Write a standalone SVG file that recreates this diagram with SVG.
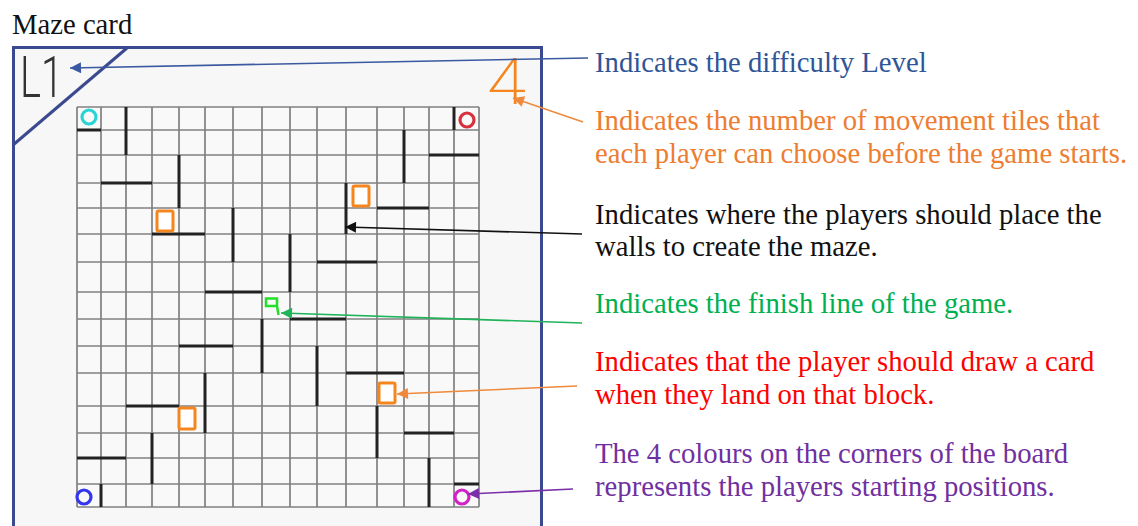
<svg xmlns="http://www.w3.org/2000/svg" width="1138" height="526" viewBox="0 0 1138 526">
<style>
.lbl{font-family:"Liberation Serif","Times New Roman",serif;font-size:28.7px}
.grid line{stroke:#808080;stroke-width:1.7}
.wall line{stroke:#222;stroke-width:3;stroke-linecap:butt}
.tile{fill:#fff;stroke:#f5861f;stroke-width:3}
.start{fill:none;stroke-width:3.2}
.conn{fill:none;stroke-width:1.6}
</style>
<defs>
<marker id="ab" viewBox="0 0 10 10" refX="10" refY="5" markerWidth="14" markerHeight="11" markerUnits="userSpaceOnUse" orient="auto"><path d="M0,0L10,5L0,10z" fill="#3a59a0"/></marker>
<marker id="ao" viewBox="0 0 10 10" refX="10" refY="5" markerWidth="14" markerHeight="11" markerUnits="userSpaceOnUse" orient="auto"><path d="M0,0L10,5L0,10z" fill="#ef8a3c"/></marker>
<marker id="ak" viewBox="0 0 10 10" refX="10" refY="5" markerWidth="14" markerHeight="11" markerUnits="userSpaceOnUse" orient="auto"><path d="M0,0L10,5L0,10z" fill="#111"/></marker>
<marker id="ag" viewBox="0 0 10 10" refX="10" refY="5" markerWidth="14" markerHeight="11" markerUnits="userSpaceOnUse" orient="auto"><path d="M0,0L10,5L0,10z" fill="#1fb35a"/></marker>
<marker id="ap" viewBox="0 0 10 10" refX="10" refY="5" markerWidth="14" markerHeight="11" markerUnits="userSpaceOnUse" orient="auto"><path d="M0,0L10,5L0,10z" fill="#7a2fa8"/></marker>
</defs>
<rect width="1138" height="526" fill="#fff"/>
<text class="lbl" x="12" y="34" fill="#111">Maze card</text>
<g id="card">
<rect x="13.5" y="47.5" width="528" height="500" fill="#f7f7f7" stroke="#3b4a8e" stroke-width="3"/>
<line x1="127" y1="48" x2="13" y2="145" stroke="#3b4a8e" stroke-width="3"/>
<text x="20" y="97" font-family="Roboto,Lato,sans-serif" font-weight="300" font-size="58" fill="#333" textLength="43" lengthAdjust="spacingAndGlyphs">L1</text>
<text x="487" y="104" font-family="Roboto,Lato,sans-serif" font-weight="200" font-size="64" fill="#f5861f" textLength="39" lengthAdjust="spacingAndGlyphs">4</text>
</g>
<g id="grid" class="grid">
<rect x="77" y="107" width="402" height="400" fill="#f9f9f9"/>
<line x1="77" y1="107" x2="77" y2="507"/><line x1="101" y1="107" x2="101" y2="507"/><line x1="126" y1="107" x2="126" y2="507"/><line x1="152" y1="107" x2="152" y2="507"/><line x1="179" y1="107" x2="179" y2="507"/><line x1="205" y1="107" x2="205" y2="507"/><line x1="233" y1="107" x2="233" y2="507"/><line x1="262" y1="107" x2="262" y2="507"/><line x1="290" y1="107" x2="290" y2="507"/><line x1="317" y1="107" x2="317" y2="507"/><line x1="346" y1="107" x2="346" y2="507"/><line x1="377" y1="107" x2="377" y2="507"/><line x1="404" y1="107" x2="404" y2="507"/><line x1="429" y1="107" x2="429" y2="507"/><line x1="454" y1="107" x2="454" y2="507"/><line x1="479" y1="107" x2="479" y2="507"/>
<line x1="77" y1="107" x2="479" y2="107"/><line x1="77" y1="130" x2="479" y2="130"/><line x1="77" y1="155" x2="479" y2="155"/><line x1="77" y1="183" x2="479" y2="183"/><line x1="77" y1="208" x2="479" y2="208"/><line x1="77" y1="234" x2="479" y2="234"/><line x1="77" y1="262" x2="479" y2="262"/><line x1="77" y1="292" x2="479" y2="292"/><line x1="77" y1="319" x2="479" y2="319"/><line x1="77" y1="346" x2="479" y2="346"/><line x1="77" y1="373" x2="479" y2="373"/><line x1="77" y1="406" x2="479" y2="406"/><line x1="77" y1="433" x2="479" y2="433"/><line x1="77" y1="458" x2="479" y2="458"/><line x1="77" y1="484" x2="479" y2="484"/><line x1="77" y1="507" x2="479" y2="507"/>
</g>
<g id="walls" class="wall">
<line x1="77" y1="130" x2="101" y2="130"/>
<line x1="101" y1="183" x2="152" y2="183"/>
<line x1="152" y1="234" x2="205" y2="234"/>
<line x1="205" y1="292" x2="262" y2="292"/>
<line x1="179" y1="346" x2="233" y2="346"/>
<line x1="126" y1="406" x2="179" y2="406"/>
<line x1="77" y1="458" x2="126" y2="458"/>
<line x1="429" y1="155" x2="479" y2="155"/>
<line x1="377" y1="208" x2="429" y2="208"/>
<line x1="317" y1="262" x2="377" y2="262"/>
<line x1="290" y1="319" x2="346" y2="319"/>
<line x1="346" y1="373" x2="404" y2="373"/>
<line x1="404" y1="433" x2="454" y2="433"/>
<line x1="454" y1="484" x2="479" y2="484"/>
<line x1="126" y1="107" x2="126" y2="155"/>
<line x1="179" y1="155" x2="179" y2="208"/>
<line x1="233" y1="208" x2="233" y2="262"/>
<line x1="290" y1="234" x2="290" y2="292"/>
<line x1="262" y1="319" x2="262" y2="373"/>
<line x1="205" y1="373" x2="205" y2="433"/>
<line x1="152" y1="433" x2="152" y2="484"/>
<line x1="101" y1="484" x2="101" y2="507"/>
<line x1="454" y1="107" x2="454" y2="130"/>
<line x1="404" y1="130" x2="404" y2="183"/>
<line x1="346" y1="183" x2="346" y2="234"/>
<line x1="317" y1="346" x2="317" y2="406"/>
<line x1="377" y1="406" x2="377" y2="458"/>
<line x1="429" y1="458" x2="429" y2="507"/>
</g>
<g id="tiles">
<rect class="tile" x="157" y="211" width="16" height="20" rx="1.5"/>
<rect class="tile" x="353" y="186" width="16" height="20" rx="1.5"/>
<rect class="tile" x="379" y="383" width="16" height="20" rx="1.5"/>
<rect class="tile" x="179" y="408" width="16" height="21" rx="1.5"/>
</g>
<g id="starts">
<circle class="start" cx="89" cy="117" r="7" stroke="#2ad4d4"/>
<circle class="start" cx="467" cy="120" r="7" stroke="#d8303c"/>
<circle class="start" cx="84" cy="497" r="7" stroke="#3535ee"/>
<circle class="start" cx="462" cy="497" r="7" stroke="#d421c8"/>
</g>
<g id="finish">
<path d="M266,298.5H277V306H266Z M277,306L278.5,315" fill="none" stroke="#22e02a" stroke-width="2.5"/>
</g>
<g id="connectors" class="conn">
<line x1="588" y1="58" x2="70" y2="68" stroke="#3a59a0" marker-end="url(#ab)"/>
<line x1="583" y1="122" x2="513" y2="98" stroke="#ef8a3c" marker-end="url(#ao)"/>
<line x1="582" y1="234" x2="345" y2="227" stroke="#111" marker-end="url(#ak)"/>
<line x1="582" y1="323" x2="281" y2="313" stroke="#1fb35a" marker-end="url(#ag)"/>
<line x1="577" y1="386" x2="397" y2="394" stroke="#ef8a3c" marker-end="url(#ao)"/>
<line x1="573" y1="489" x2="468" y2="494" stroke="#7a2fa8" marker-end="url(#ap)"/>
</g>
<g id="labels" class="lbl">
<text x="595" y="72" fill="#2f5597">Indicates the difficulty Level</text>
<text x="595" y="130" fill="#ed7d31">Indicates the number of movement tiles that</text>
<text x="595" y="163" fill="#ed7d31">each player can choose before the game starts.</text>
<text x="595" y="224" fill="#111">Indicates where the players should place the</text>
<text x="595" y="256" fill="#111">walls to create the maze.</text>
<text x="595" y="313" fill="#00b050">Indicates the finish line of the game.</text>
<text x="595" y="371" fill="#ff0000">Indicates that the player should draw a card</text>
<text x="595" y="404" fill="#ff0000">when they land on that block.</text>
<text x="595" y="463" fill="#7030a0">The 4 colours on the corners of the board</text>
<text x="595" y="496" fill="#7030a0">represents the players starting positions.</text>
</g>
</svg>
